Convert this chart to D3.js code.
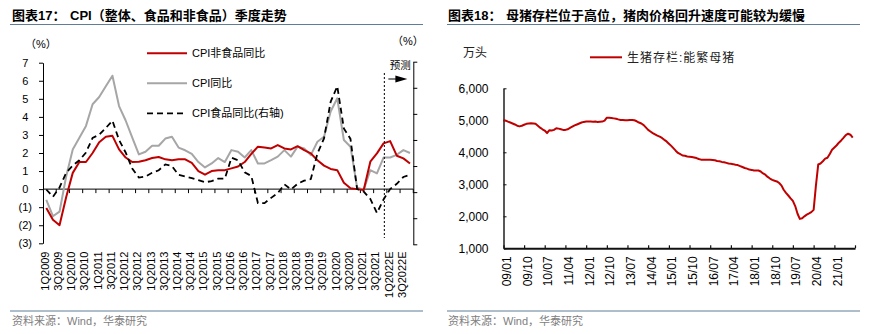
<!DOCTYPE html>
<html><head><meta charset="utf-8">
<script src="https://cdn.jsdelivr.net/npm/d3@7"></script>
<style>
html,body{margin:0;padding:0;background:#fff;}
svg{display:block;}
text{font-family:"Liberation Sans",Arial,"Noto Sans CJK SC",sans-serif;}
</style></head><body>
<svg id="c" width="871" height="334"></svg>
<script>
// ---------- Left chart data ----------
const quarters = ["1Q2009","2Q2009","3Q2009","4Q2009","1Q2010","2Q2010","3Q2010","4Q2010",
"1Q2011","2Q2011","3Q2011","4Q2011","1Q2012","2Q2012","3Q2012","4Q2012",
"1Q2013","2Q2013","3Q2013","4Q2013","1Q2014","2Q2014","3Q2014","4Q2014",
"1Q2015","2Q2015","3Q2015","4Q2015","1Q2016","2Q2016","3Q2016","4Q2016",
"1Q2017","2Q2017","3Q2017","4Q2017","1Q2018","2Q2018","3Q2018","4Q2018",
"1Q2019","2Q2019","3Q2019","4Q2019","1Q2020","2Q2020","3Q2020","4Q2020",
"1Q2021","2Q2021","3Q2021","4Q2021","1Q2022E","2Q2022E","3Q2022E","4Q2022E"];
const nonFoodCPI = [-1.05,-1.7,-2.0,-0.45, 0.9,1.5,1.5,2.0, 2.6,2.9,2.95,2.2, 1.75,1.5,1.52,1.6,
 1.72,1.78,1.65,1.6, 1.65,1.65,1.45,1.0, 0.8,1.0,1.05,1.05, 1.15,1.25,1.5,1.95,
 2.35,2.3,2.25,2.44, 2.25,2.2,2.38,2.16, 1.98,1.6,1.3,1.12, 1.05,0.35,0.05,0.0,
 -0.05,1.52,1.98,2.53, 2.66,1.85,1.7,1.42];
const cpiYoY = [-0.6,-1.5,-1.25,0.7, 2.2,2.85,3.5,4.7, 5.1,5.7,6.28,4.6, 3.8,2.85,1.92,2.07,
 2.4,2.4,2.8,2.9, 2.3,2.15,1.95,1.5, 1.2,1.42,1.72,1.5, 2.16,2.07,1.75,2.16,
 1.42,1.42,1.6,1.8, 2.16,1.8,2.35,2.25, 1.88,2.62,2.9,4.3, 5.03,2.72,2.35,0.1,
 -0.05,1.05,0.87,1.75, 1.75,1.9,2.16,2.0];
const foodCPI = [0.5,-0.9,0.9,3.7, 5.1,6.1,7.6,10.4, 11.0,12.3,13.7,10.0, 7.6,4.5,2.8,3.0,
 3.7,4.2,5.3,5.0, 3.3,3.0,2.7,2.3, 1.9,2.1,2.6,2.6, 6.6,6.1,3.8,3.1,
 -2.1,-2.1,-1.1,-0.2, 1.5,0.5,1.6,2.2, 2.5,7.4,10.3,17.3, 20.3,12.2,10.2,0.6,
 0.1,-1.3,-4.0,-1.4, 0.6,1.6,2.9,3.3];
const leftTicks = [7,6,5,4,3,2,1,0,-1,-2,-3];
const rightTicks = [25,20,15,10,5,0,-5,-10];
const leftLegend = ["CPI非食品同比","CPI同比","CPI食品同比(右轴)"];

// ---------- Right chart data ----------
const sowByYear = [
 [5010,4990,4960,4930,4900,4870,4830,4810,4830,4860,4890,4900], // 2009
 [4910,4900,4890,4830,4770,4720,4680,4600,4690,4680,4700,4750], // 2010
 [4740,4720,4700,4700,4720,4760,4800,4840,4870,4900,4930,4950], // 2011
 [4960,4960,4960,4955,4960,4950,4955,4960,4990,5080,5078,5070], // 2012
 [5060,5050,5030,5010,5010,5000,5000,5010,5010,5000,4970,4930], // 2013
 [4900,4850,4780,4700,4650,4600,4560,4520,4490,4450,4390,4340], // 2014
 [4270,4200,4130,4050,3980,3940,3900,3890,3870,3860,3850,3840], // 2015
 [3820,3790,3770,3770,3770,3770,3770,3760,3750,3730,3720,3700], // 2016
 [3690,3670,3650,3640,3630,3610,3600,3570,3540,3510,3490,3460], // 2017
 [3450,3430,3430,3430,3400,3340,3300,3230,3180,3140,3110,3090], // 2018
 [3040,2960,2830,2730,2650,2560,2480,2320,2080,1920,1940,2000], // 2019
 [2050,2090,2130,2200,2950,3620,3650,3720,3800,3830,3950,4080], // 2020
 [4150,4220,4300,4370,4450,4540,4580,4550,4460]                  // 2021
];
const sowStartYear = 2009;
const sowTickLabels = ["09/01","09/10","10/07","11/04","12/01","12/10","13/07","14/04","15/01",
 "15/10","16/07","17/04","18/01","18/10","19/07","20/04","21/01"];
const sowYTicks = [6000,5000,4000,3000,2000,1000];
const sowLegend = "生猪存栏:能繁母猪";

const svg = d3.select("#c");
const lineCol = "#5f7d96";

// ---------- Titles / frames ----------
function title(x, prefix, main) {
  const t = svg.append("text").attr("x", x).attr("y", 19.5)
    .attr("font-size", 13).attr("font-weight", "bold").attr("fill", "#000");
  t.append("tspan").text(prefix);
  t.append("tspan").attr("x", x + 58).text(main);
}
title(12, "图表17：", "CPI（整体、食品和非食品）季度走势");
title(448, "图表18：", "母猪存栏位于高位，猪肉价格回升速度可能较为缓慢");
[[10,423],[447,860]].forEach(([a,b]) => {
  svg.append("line").attr("x1",a).attr("x2",b).attr("y1",24.5).attr("y2",24.5)
    .attr("stroke",lineCol).attr("stroke-width",1);
  svg.append("line").attr("x1",a).attr("x2",b).attr("y1",311).attr("y2",311)
    .attr("stroke",lineCol).attr("stroke-width",1);
});
[12,448].forEach(x => svg.append("text").attr("x",x).attr("y",324.5)
  .attr("font-size",11).attr("fill","#808080").text("资料来源：Wind，华泰研究"));

// ---------- Left chart ----------
const L = {x0:43, x1:413.3};
const x = d3.scaleBand().domain(quarters).range([L.x0, L.x1]);
const cx = q => x(q) + x.bandwidth()/2;
const yL = d3.scaleLinear().domain([-3,7]).range([243.3,62.7]);
const yR = d3.scaleLinear().domain([-10,25]).range([244.3,61.7]);

const gL = svg.append("g");
const axL = gL.append("g").attr("transform",`translate(${L.x0},0)`)
  .call(d3.axisLeft(yL).tickValues(leftTicks).tickSize(4).tickSizeOuter(0).tickPadding(7)
    .tickFormat(d => d < 0 ? `(${-d})` : `${d}`));
axL.select(".domain").attr("stroke","#000");
axL.selectAll(".tick line").attr("stroke","#000");
axL.selectAll("text").attr("font-size",11).attr("fill","#000")
  .attr("font-family","Liberation Sans, Arial, sans-serif")
  .attr("x", d => d < 0 ? -11 : -14.7);

const axR = gL.append("g").attr("transform",`translate(${L.x1},0)`)
  .call(d3.axisRight(yR).tickValues(rightTicks).tickSize(4).tickSizeOuter(0).tickFormat(""));
axR.select(".domain").attr("stroke","#000");
axR.selectAll(".tick line").attr("stroke","#000");

// zero category axis
gL.append("line").attr("x1",L.x0).attr("x2",L.x1).attr("y1",yL(0)).attr("y2",yL(0))
  .attr("stroke","#000").attr("stroke-width",1);
const tickQs = quarters.filter((q,i) => i > 0 && i % 2 === 0);
gL.selectAll(".qt").data(tickQs).enter().append("line")
  .attr("x1", q => x(q)).attr("x2", q => x(q))
  .attr("y1", yL(0)).attr("y2", yL(0) + 4).attr("stroke","#000");
gL.append("line").attr("x1",L.x1).attr("x2",L.x1).attr("y1",yL(0)).attr("y2",yL(0)+4).attr("stroke","#000");
gL.selectAll(".ql").data(quarters.filter((q,i) => i % 2 === 0)).enter().append("text")
  .attr("transform", q => `translate(${cx(q)},251.5) rotate(-90)`)
  .attr("text-anchor","end").attr("dy","0.22em").attr("font-size",11).attr("fill","#000")
  .text(q => q);

// series
const lineL = d3.line().x((d,i) => cx(quarters[i])).y(d => yL(d));
const lineR = d3.line().x((d,i) => cx(quarters[i])).y(d => yR(d));
gL.append("path").attr("d", lineL(cpiYoY)).attr("fill","none")
  .attr("stroke","#a6a6a6").attr("stroke-width",2).attr("stroke-linejoin","round");
gL.append("path").attr("d", lineL(nonFoodCPI)).attr("fill","none")
  .attr("stroke","#c00000").attr("stroke-width",2).attr("stroke-linejoin","round");
gL.append("path").attr("d", lineR(foodCPI)).attr("fill","none")
  .attr("stroke","#000").attr("stroke-width",1.8).attr("stroke-dasharray","6,4");

// forecast marker
const fx = cx("4Q2021") + 0.8;
gL.append("line").attr("x1",fx).attr("x2",fx).attr("y1",73).attr("y2",238)
  .attr("stroke","#000").attr("stroke-width",1).attr("stroke-dasharray","2,2");
gL.append("text").attr("x",fx+16).attr("y",69).attr("text-anchor","middle")
  .attr("font-size",10.5).attr("fill","#000").text("预测");
gL.append("line").attr("x1",fx+4).attr("x2",fx+13).attr("y1",79).attr("y2",79)
  .attr("stroke","#000").attr("stroke-width",1);
gL.append("path").attr("d",`M${fx+11},75.5 L${fx+23},79 L${fx+11},82.5 Z`).attr("fill","#000");

// units
gL.append("text").attr("x",25).attr("y",48).attr("font-size",11).attr("fill","#000").text("（%）");
gL.append("text").attr("x",392).attr("y",45).attr("font-size",11).attr("fill","#000").text("（%）");

// legend
const legStyles = [
  {c:"#c00000", w:2, dash:null},
  {c:"#a6a6a6", w:2, dash:null},
  {c:"#000", w:1.8, dash:"6,4"}];
leftLegend.forEach((name,i) => {
  const yy = 53.3 + i*30;
  const ln = gL.append("line").attr("x1",147).attr("x2",187).attr("y1",yy).attr("y2",yy)
    .attr("stroke",legStyles[i].c).attr("stroke-width",legStyles[i].w);
  if (legStyles[i].dash) ln.attr("stroke-dasharray",legStyles[i].dash);
  gL.append("text").attr("x",192).attr("y",yy+4).attr("font-size",11).attr("fill","#000").text(name);
});

// ---------- Right chart ----------
const sowValues = sowByYear.flat();
const sowDates = sowValues.map((v,i) => new Date(sowStartYear, i, 1));
const parseTick = s => new Date(2000 + +s.slice(0,2), +s.slice(3) - 1, 1);
const tickDates = sowTickLabels.map(parseTick);
const endDate = new Date(2021, 9, 1);
const xs = d3.scaleTime().domain([sowDates[0], endDate]).range([503.5, 855]);
const ys = d3.scaleLinear().domain([1000,6000]).range([248.3, 88.3]);

const gR = svg.append("g");
const ay = gR.append("g").attr("transform","translate(503.5,0)")
  .call(d3.axisLeft(ys).tickValues(sowYTicks).tickSize(-3).tickSizeOuter(0).tickPadding(15)
    .tickFormat(d3.format(",")));
ay.select(".domain").attr("stroke","#111").attr("stroke-width",1.4);
ay.selectAll(".tick line").attr("stroke","#111");
ay.selectAll("text").attr("font-size",12).attr("fill","#000");

const ax = gR.append("g").attr("transform","translate(0,248.3)")
  .call(d3.axisBottom(xs).tickValues(tickDates.concat([endDate])).tickSize(-3).tickSizeOuter(0)
    .tickFormat((d,i) => i < sowTickLabels.length ? sowTickLabels[i] : ""));
ax.select(".domain").attr("stroke","#111").attr("stroke-width",2);
ax.selectAll(".tick line").attr("stroke","#111").attr("stroke-width",1.2);
ax.selectAll("text").attr("font-size",12).attr("fill","#000")
  .attr("transform","rotate(-90)").attr("text-anchor","end")
  .attr("x",-8).attr("y",0).attr("dy","0.58em");

gR.append("path").attr("d", d3.line().x((d,i) => xs(sowDates[i])).y(d => ys(d))(sowValues))
  .attr("fill","none").attr("stroke","#c00000").attr("stroke-width",2).attr("stroke-linejoin","round");

gR.append("text").attr("x",463).attr("y",57).attr("font-size",12).attr("fill","#222").text("万头");
gR.append("line").attr("x1",590).attr("x2",622).attr("y1",57.3).attr("y2",57.3)
  .attr("stroke","#c00000").attr("stroke-width",2);
gR.append("text").attr("x",627).attr("y",61.5).attr("font-size",12).attr("letter-spacing",1)
  .attr("fill","#222").text(sowLegend);
</script>
</body></html>
